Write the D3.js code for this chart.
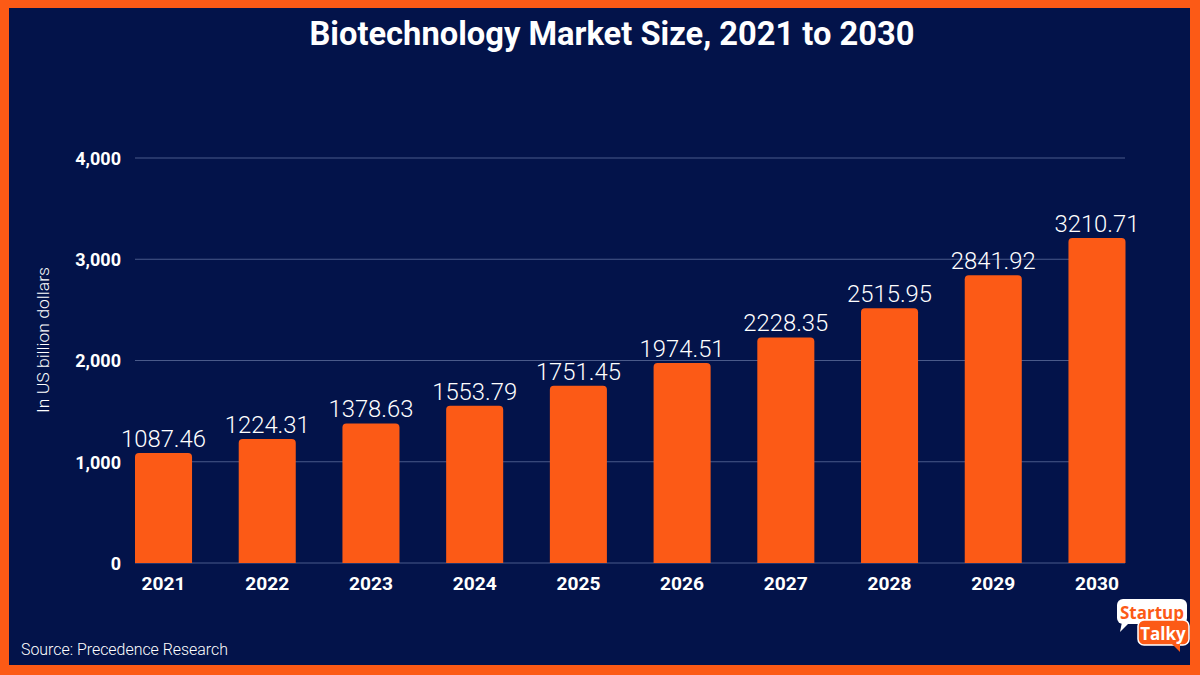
<!DOCTYPE html>
<html><head><meta charset="utf-8">
<script src="https://cdn.jsdelivr.net/npm/d3@7"></script>
<style>html,body{margin:0;padding:0;background:#FC5A16;}svg{display:block;}</style>
</head><body>
<script>
const years = ["2021","2022","2023","2024","2025","2026","2027","2028","2029","2030"];
const values = [1087.46,1224.31,1378.63,1553.79,1751.45,1974.51,2228.35,2515.95,2841.92,3210.71];
const yTicks = [0,1000,2000,3000,4000];
const title = "Biotechnology Market Size, 2021 to 2030";
const yTitle = "In US billion dollars";
const source = "Source: Precedence Research";

const W=1200,H=675;
const navy="#03134A", orange="#FC5A16";
const svg=d3.select("body").append("svg").attr("width",W).attr("height",H);
svg.append("rect").attr("width",W).attr("height",H).attr("fill",orange);
svg.append("rect").attr("x",9).attr("y",8).attr("width",1181).attr("height",657).attr("fill",navy);

svg.append("text").attr("x",612).attr("y",45).attr("text-anchor","middle")
  .attr("font-family","Roboto").attr("font-weight",700).attr("font-size",33)
  .attr("fill","#fff").attr("textLength",605).attr("lengthAdjust","spacingAndGlyphs").text(title);

const x=d3.scaleBand().domain(years).range([135,1125.5]).paddingInner(0.45).paddingOuter(0);
const y=d3.scaleLinear().domain([0,4000]).range([563,158]);

const g=svg.append("g");
g.selectAll("line.grid").data(yTicks).join("line").attr("class","grid")
  .attr("x1",135).attr("x2",1125).attr("y1",d=>y(d)).attr("y2",d=>y(d))
  .attr("stroke","#4a5a8a").attr("stroke-width",1);

const yAxis=d3.axisLeft(y).tickValues(yTicks).tickSize(0).tickPadding(0).tickFormat(d3.format(","));
const ya=svg.append("g").attr("transform","translate(121,0)").call(yAxis);
ya.select(".domain").remove();
ya.selectAll("text").attr("fill","#fff").attr("font-family","Roboto").attr("font-weight",700).attr("font-size",18).attr("dy","0.35em");

const xAxis=d3.axisBottom(x).tickSize(0).tickPadding(0);
const xa=svg.append("g").attr("transform","translate(0,590)").call(xAxis);
xa.select(".domain").remove();
xa.selectAll("text").attr("fill","#fff").attr("font-family","Roboto").attr("font-weight",700).attr("font-size",18.5).attr("dy","0").attr("y",0)
  .attr("textLength",44).attr("lengthAdjust","spacingAndGlyphs");

const r=4;
svg.selectAll("path.bar").data(values).join("path").attr("class","bar")
  .attr("fill",orange)
  .attr("d",(d,i)=>{const x0=x(years[i]),w=x.bandwidth(),y0=y(d),y1=y(0);
    return `M${x0},${y1}V${y0+r}Q${x0},${y0} ${x0+r},${y0}H${x0+w-r}Q${x0+w},${y0} ${x0+w},${y0+r}V${y1}Z`;});

svg.selectAll("text.val").data(values).join("text").attr("class","val")
  .attr("x",(d,i)=>x(years[i])+x.bandwidth()/2).attr("y",d=>y(d)-6)
  .attr("text-anchor","middle").attr("fill","#fff").attr("font-family","Roboto").attr("font-weight",300)
  .attr("font-size",23).attr("textLength",85).attr("lengthAdjust","spacingAndGlyphs").text(d=>d.toFixed(2));

svg.append("text").attr("transform","translate(49,340) rotate(-90)").attr("text-anchor","middle")
  .attr("fill","#fff").attr("font-family","Roboto").attr("font-weight",300).attr("font-size",17)
  .attr("textLength",146).attr("lengthAdjust","spacingAndGlyphs").text(yTitle);

svg.append("text").attr("x",21).attr("y",655).attr("fill","#fff").attr("font-family","Roboto")
  .attr("font-weight",300).attr("font-size",16).attr("textLength",207).attr("lengthAdjust","spacingAndGlyphs").text(source);

// logo
const lg=svg.append("g");
lg.append("rect").attr("x",1117).attr("y",599).attr("width",70).attr("height",25).attr("rx",6).attr("fill","#fff");
lg.append("path").attr("d","M1122,622 L1120,632 L1130,622 Z").attr("fill","#fff");
lg.append("rect").attr("x",1138).attr("y",620).attr("width",51).attr("height",25).attr("rx",6).attr("fill",orange).attr("stroke","#fff").attr("stroke-width",1.5);
lg.append("path").attr("d","M1172,644 L1180,652 L1180,644 Z").attr("fill",orange);
lg.append("text").attr("x",1152).attr("y",619).attr("text-anchor","middle").attr("font-family","Open Sans").attr("font-weight",700).attr("font-size",17).attr("fill",orange).text("Startup");
lg.append("text").attr("x",1163).attr("y",640).attr("text-anchor","middle").attr("font-family","Open Sans").attr("font-weight",700).attr("font-size",17).attr("fill","#fff").text("Talky");
</script>
</body></html>
